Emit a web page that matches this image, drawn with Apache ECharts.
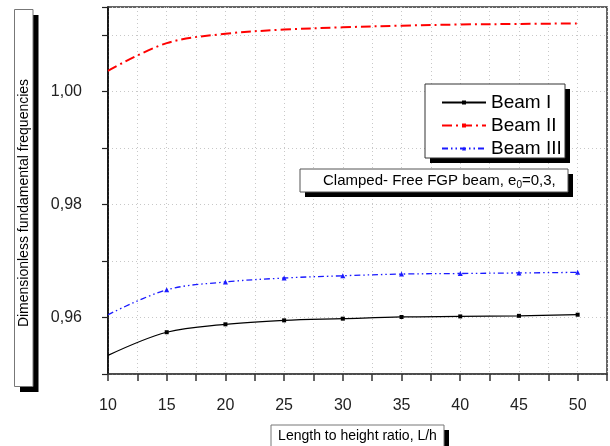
<!DOCTYPE html>
<html>
<head>
<meta charset="utf-8">
<script src="https://cdn.jsdelivr.net/npm/echarts@6/dist/echarts.min.js"></script>
<style>
html,body{margin:0;padding:0;background:#fff;}
#c{width:610px;height:446px;}
</style>
</head>
<body>
<div id="c"></div>
<script>
const ratioLH = [10, 15, 20, 25, 30, 35, 40, 45, 50];
const beamI   = [0.9533, 0.9574, 0.9588, 0.9595, 0.9598, 0.9601, 0.9602, 0.9603, 0.9605];
const beamII  = [1.0037, 1.0086, 1.01025, 1.0110, 1.0114, 1.0117, 1.0119, 1.0120, 1.0121];
const beamIII = [0.9605, 0.9649, 0.9663, 0.9670, 0.9674, 0.9677, 0.9678, 0.9679, 0.9680];
const seriesNames = ['Beam I', 'Beam II', 'Beam III'];
const xTickLabels = ['10', '15', '20', '25', '30', '35', '40', '45', '50'];
const yTickLabels = ['0,96', '0,98', '1,00'];

const FONT = '"Liberation Sans", Arial, sans-serif';

function pairs(ys, hideFirst) {
  return ratioLH.map((x, i) => {
    const item = { value: [x, ys[i]] };
    if (hideFirst && i === 0) item.symbol = 'none';
    return item;
  });
}

const chart = echarts.init(document.getElementById('c'), null, { renderer: 'canvas' });

const gridL = 108, gridT = 7, gridR = 3, gridB = 72;

chart.setOption({
  animation: false,
  backgroundColor: '#fff',
  grid: {
    left: gridL, top: gridT, right: gridR, bottom: gridB,
    show: true, borderColor: '#333', borderWidth: 1.5, backgroundColor: 'transparent'
  },
  legend: {
    orient: 'vertical',
    left: 436, top: 88,
    itemWidth: 44, itemHeight: 5, itemGap: 4,
    z: 20,
    textStyle: { fontFamily: FONT, fontSize: 19, color: '#000', lineHeight: 19 },
    data: seriesNames
  },
  xAxis: {
    type: 'value', min: 10, max: 52.5, interval: 2.5,
    axisLine: { show: true, lineStyle: { color: '#444', width: 1.5 } },
    axisTick: { show: true, inside: false, length: 7, lineStyle: { color: '#333', width: 1.5 } },
    axisLabel: {
      margin: 24, fontFamily: FONT, fontSize: 16, color: '#222',
      formatter: v => {
        const idx = xTickLabels.indexOf(String(v));
        return idx >= 0 ? xTickLabels[idx] : '';
      }
    },
    splitLine: { show: true, lineStyle: { color: '#c8c8c8', width: 1, type: [1, 3] } }
  },
  yAxis: {
    type: 'value', min: 0.95, max: 1.015, interval: 0.01,
    axisLine: { show: true, lineStyle: { color: '#000', width: 1.5 } },
    axisTick: { show: true, inside: false, length: 6, lineStyle: { color: '#222', width: 1.2 } },
    axisLabel: {
      margin: 26, fontFamily: FONT, fontSize: 16, color: '#222',
      formatter: v => {
        const s = v.toFixed(2).replace('.', ',');
        return (Math.abs(v * 100 - Math.round(v * 100)) < 1e-6 && yTickLabels.indexOf(s) >= 0) ? s : '';
      }
    },
    splitLine: { show: true, lineStyle: { color: '#c8c8c8', width: 1, type: [1, 3] } }
  },
  series: [
    {
      name: seriesNames[0], type: 'line', data: pairs(beamI, true),
      smooth: 0.35,
      symbol: 'rect', symbolSize: 4,
      lineStyle: { color: '#000', width: 1.2, type: 'solid' },
      itemStyle: { color: '#000' }
    },
    {
      name: seriesNames[1], type: 'line', data: pairs(beamII, false),
      smooth: 0.35,
      symbol: 'rect', symbolSize: 3, showSymbol: false,
      lineStyle: { color: '#ff0000', width: 2, type: [10, 4, 2, 4] },
      itemStyle: { color: '#ff0000' }
    },
    {
      name: seriesNames[2], type: 'line', data: pairs(beamIII, true),
      smooth: 0.35,
      symbol: 'triangle', symbolSize: 5,
      lineStyle: { color: '#1a1aff', width: 1.3, type: [6, 3, 1.5, 3, 1.5, 3] },
      itemStyle: { color: '#1a1aff' }
    }
  ],
  graphic: [
    // Y axis name box
    { type: 'rect', z: 10, shape: { x: 20, y: 15, width: 18.5, height: 377 }, style: { fill: '#000' } },
    { type: 'rect', z: 11, shape: { x: 14.5, y: 9.5, width: 18.5, height: 377 }, style: { fill: '#fff', stroke: '#777', lineWidth: 1 } },
    { type: 'text', z: 12, x: 24, y: 203, rotation: Math.PI / 2,
      style: { text: 'Dimensionless fundamental frequencies', font: '14px ' + FONT, fill: '#000', align: 'center', verticalAlign: 'middle' } },
    // X axis name box
    { type: 'rect', z: 10, shape: { x: 276, y: 430, width: 173, height: 22 }, style: { fill: '#000' } },
    { type: 'rect', z: 11, shape: { x: 271, y: 425, width: 173, height: 22 }, style: { fill: '#fff', stroke: '#777', lineWidth: 1 } },
    { type: 'text', z: 12, x: 357.5, y: 436,
      style: { text: 'Length to height ratio, L/h', font: '14px ' + FONT, fill: '#000', align: 'center', verticalAlign: 'middle' } },
    // Legend box
    { type: 'rect', z: 10, shape: { x: 430, y: 89, width: 140, height: 74 }, style: { fill: '#000' } },
    { type: 'rect', z: 11, shape: { x: 425, y: 84, width: 140, height: 74 }, style: { fill: '#fff', stroke: '#333', lineWidth: 1 } },
    // Annotation box
    { type: 'rect', z: 10, shape: { x: 305, y: 174, width: 268, height: 23 }, style: { fill: '#000' } },
    { type: 'rect', z: 11, shape: { x: 300, y: 169, width: 268, height: 23 }, style: { fill: '#fff', stroke: '#555', lineWidth: 1 } },
    { type: 'text', z: 12, x: 323, y: 181,
      style: {
        text: '{n|Clamped- Free FGP beam, e}{s|0}{n|=0,3,}',
        align: 'left', verticalAlign: 'middle',
        rich: {
          n: { fontFamily: FONT, fontSize: 15, color: '#000', lineHeight: 18, verticalAlign: 'middle' },
          s: { fontFamily: FONT, fontSize: 10, color: '#000', lineHeight: 18, verticalAlign: 'bottom', padding: [7, 0, 0, 0] }
        }
      } }
  ]
});
</script>
</body>
</html>
